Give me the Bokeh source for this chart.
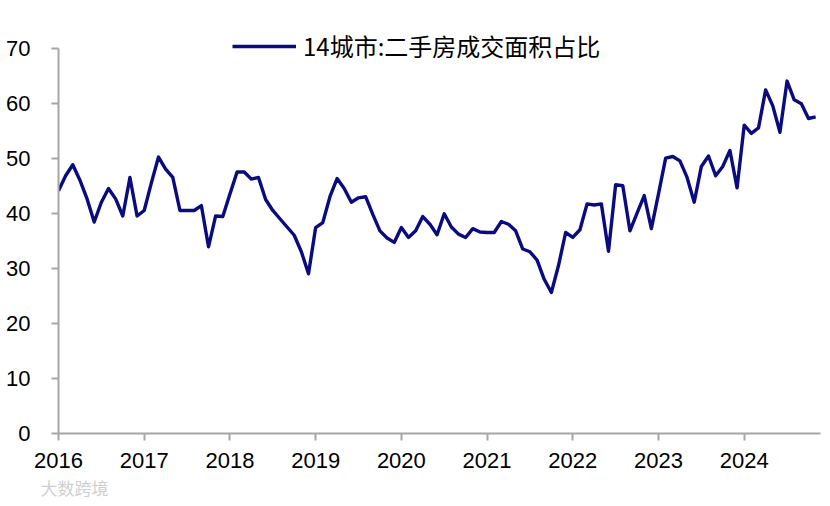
from bokeh.plotting import figure
from bokeh.models import FixedTicker, Legend, LegendItem, Range1d, Title
from bokeh.embed import file_html
from bokeh.resources import INLINE

# ---- data ----
start_year = 2016
series_name = "14城市:二手房成交面积占比"
share = [
    44.1, 46.8, 48.8, 46.0, 42.6, 38.4, 42.0, 44.5, 42.6, 39.5, 46.5, 39.5,   # 2016
    40.5, 45.5, 50.2, 48.0, 46.5, 40.5, 40.5, 40.5, 41.4, 33.9, 39.5, 39.4,   # 2017
    43.5, 47.5, 47.5, 46.2, 46.5, 42.5, 40.5, 39.0, 37.5, 36.0, 33.0, 29.0,   # 2018
    37.4, 38.3, 43.0, 46.3, 44.5, 42.0, 42.8, 43.0, 39.8, 36.8, 35.5, 34.7,   # 2019
    37.4, 35.6, 36.8, 39.4, 38.0, 36.1, 39.9, 37.5, 36.2, 35.6, 37.2, 36.6,   # 2020
    36.5, 36.5, 38.5, 38.0, 36.8, 33.5, 33.0, 31.5, 28.0, 25.6, 30.5, 36.5,   # 2021
    35.6, 37.0, 41.7, 41.5, 41.7, 33.1, 45.2, 45.0, 36.8, 40.0, 43.2, 37.2,   # 2022
    43.5, 50.0, 50.3, 49.5, 46.5, 42.0, 48.5, 50.4, 46.8, 48.5, 51.4, 44.6,   # 2023
    56.0, 54.5, 55.5, 62.4, 59.5, 54.7, 64.0, 60.6, 59.9, 57.2, 57.5,         # 2024
]
year_ticks = [2016, 2017, 2018, 2019, 2020, 2021, 2022, 2023, 2024]
year_labels = ["2016", "2017", "2018", "2019", "2020", "2021", "2022", "2023", "2024"]
y_ticks = [0, 10, 20, 30, 40, 50, 60, 70]
watermark = "大数跨境"

# month positions as decimal years
x = [start_year + i / 12 for i in range(len(share))]

p = figure(width=830, height=506, output_backend="svg", toolbar_location=None,
           x_range=Range1d(2016, 2024.89), y_range=Range1d(0, 75),
           min_border_left=58, min_border_right=10, min_border_top=20,
           min_border_bottom=73)
p.outline_line_color = None
p.xgrid.grid_line_color = None
p.ygrid.grid_line_color = None
p.background_fill_color = "white"
p.border_fill_color = "white"

r = p.line(x, share, line_color="#0b0b80", line_width=3.4, line_join="round")

axis_col = "#a6a6a6"
for ax in (p.xaxis[0], p.yaxis[0]):
    ax.axis_line_color = axis_col
    ax.axis_line_width = 2
    ax.major_tick_line_color = axis_col
    ax.major_tick_line_width = 2
    ax.major_tick_out = 7
    ax.major_tick_in = 0
    ax.minor_tick_line_color = None
    ax.major_label_text_font = "Liberation Sans"
    ax.major_label_text_font_size = "22px"
    ax.major_label_text_color = "black"

p.xaxis.ticker = FixedTicker(ticks=year_ticks)
p.xaxis.major_label_overrides = {t: l for t, l in zip(year_ticks, year_labels)}
p.xaxis.major_label_standoff = 12
p.yaxis.ticker = FixedTicker(ticks=y_ticks)
p.yaxis.bounds = (0, 70)
p.yaxis.major_label_standoff = 21

legend = Legend(items=[LegendItem(label=series_name, renderers=[r])],
                location=(174, 370), orientation="horizontal",
                glyph_width=64, glyph_height=20, label_standoff=7,
                padding=0, margin=0, spacing=0,
                border_line_color=None, background_fill_alpha=0,
                label_text_font="Noto Sans CJK SC", label_text_font_size="24px",
                label_text_color="black")
p.add_layout(legend, "center")

wm = Title(text=watermark, align="left", offset=-18, standoff=4,
           text_font="Noto Sans CJK SC", text_font_size="17px",
           text_font_style="normal", text_color="#cfcfcf")
p.add_layout(wm, "below")

open("out.html", "w").write(file_html(p, INLINE))
